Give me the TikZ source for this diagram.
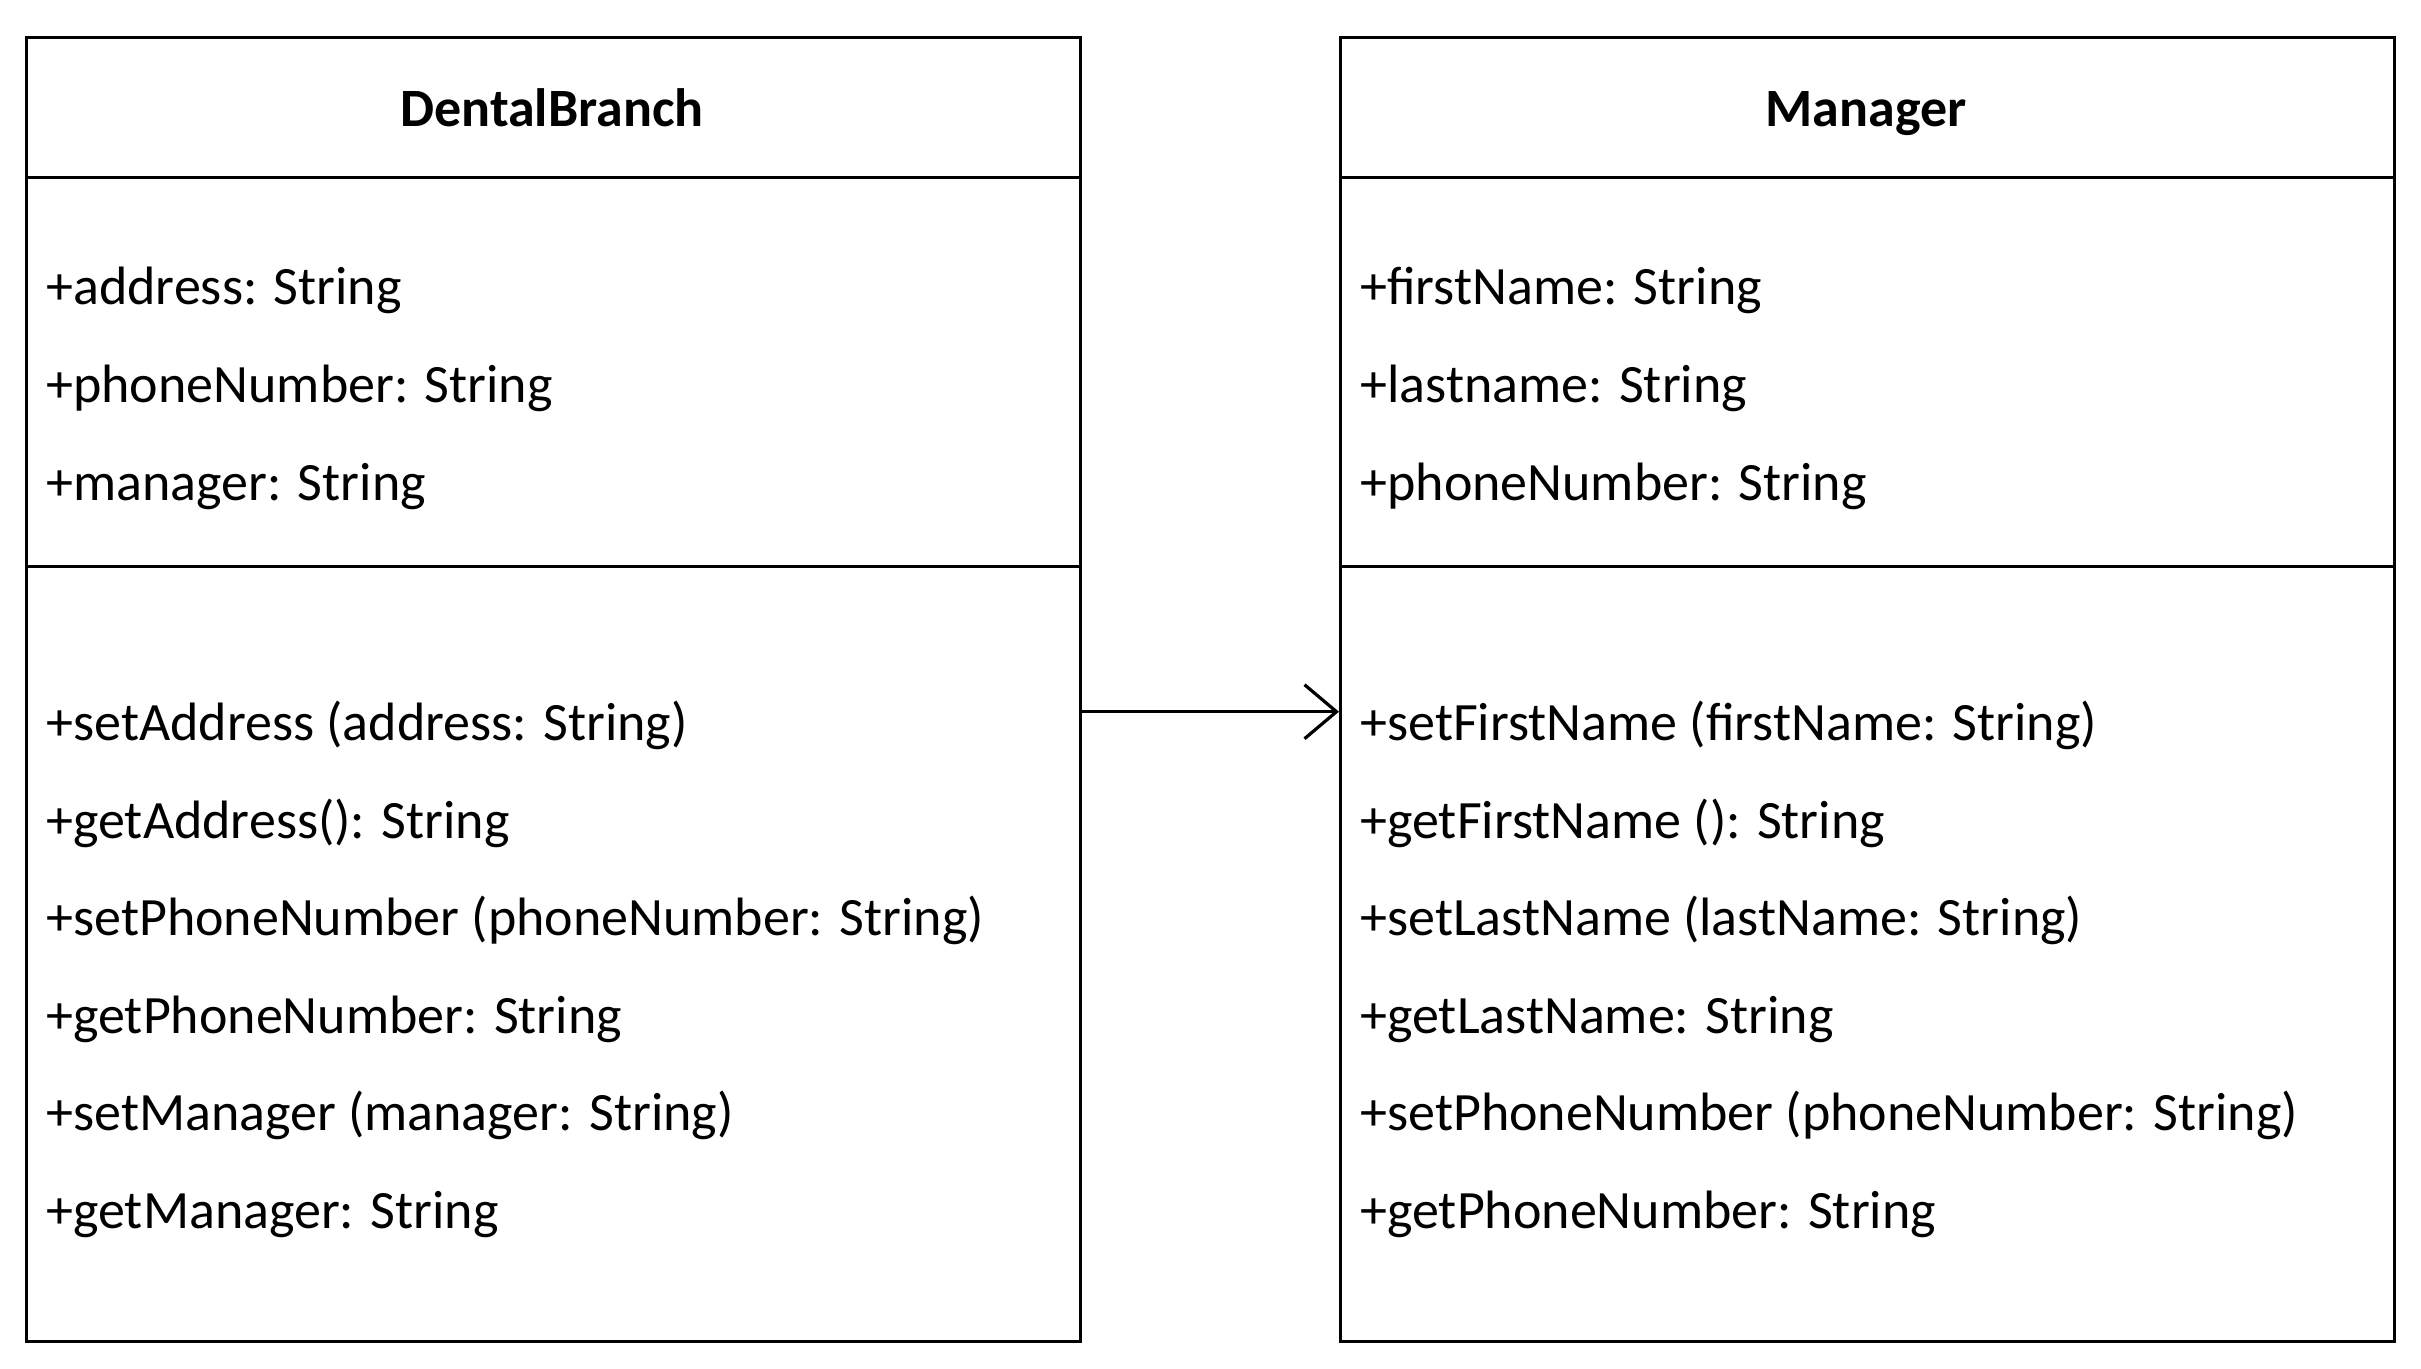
\documentclass[tikz,border=0pt]{standalone}
\usepackage{fontspec}
\setmainfont{Carlito}
\usetikzlibrary{arrows.meta}
\tikzset{
  classbox/.style={draw, line width=1.5pt, minimum width=527pt, minimum height=652pt, inner sep=0pt, anchor=north west},
  divider/.style={line width=1.5pt},
  classname/.style={anchor=base, inner sep=0pt, font=\fontsize{27}{32}\selectfont\bfseries},
  member/.style={anchor=mid west, inner sep=0pt, font=\fontsize{27}{32}\selectfont},
  assoc/.style={line width=1.5pt, -{Straight Barb[length=16pt,width=27pt,line width=1.6pt]}}
}
\begin{document}
\begin{tikzpicture}[x=0.5pt,y=-0.5pt]
\useasboundingbox (0,0) rectangle (2421,1369);
% boxes
\node[classbox] (db) at (25,36) {};
\node[classbox] (mg) at (1339,36) {};
% dividers
\coordinate (h1) at (0,177.5);
\coordinate (h2) at (0,566.5);
\draw[divider] (db.west |- h1) -- (db.east |- h1);
\draw[divider] (db.west |- h2) -- (db.east |- h2);
\draw[divider] (mg.west |- h1) -- (mg.east |- h1);
\draw[divider] (mg.west |- h2) -- (mg.east |- h2);
% class names
\node[classname] (dbname) at (552,127) {DentalBranch};
\node[classname] (mgname) at (1866,127) {Manager};
% DentalBranch attributes
\node[member] (da1) at (46,299.5) {+address: String};
\node[member] (da2) at (46,397.5) {+phoneNumber: String};
\node[member] (da3) at (46,495.5) {+manager: String};
% DentalBranch methods
\node[member] (dm1) at (46,735.5) {+setAddress (address: String)};
\node[member] (dm2) at (46,833.5) {+getAddress(): String};
\node[member] (dm3) at (46,931) {+setPhoneNumber (phoneNumber: String)};
\node[member] (dm4) at (46,1028.5) {+getPhoneNumber: String};
\node[member] (dm5) at (46,1126) {+setManager (manager: String)};
\node[member] (dm6) at (46,1223.5) {+getManager: String};
% Manager attributes
\node[member] (ma1) at (1360,299.5) {+firstName: String};
\node[member] (ma2) at (1360,397.5) {+lastname: String};
\node[member] (ma3) at (1360,495.5) {+phoneNumber: String};
% Manager methods
\node[member] (mm1) at (1360,735.5) {+setFirstName (firstName: String)};
\node[member] (mm2) at (1360,833.5) {+getFirstName (): String};
\node[member] (mm3) at (1360,931) {+setLastName (lastName: String)};
\node[member] (mm4) at (1360,1028.5) {+getLastName: String};
\node[member] (mm5) at (1360,1126) {+setPhoneNumber (phoneNumber: String)};
\node[member] (mm6) at (1360,1223.5) {+getPhoneNumber: String};
% association
\coordinate (ay) at (0,711.7);
\draw[assoc] (db.east |- ay) -- (mg.west |- ay);
\end{tikzpicture}
\end{document}
